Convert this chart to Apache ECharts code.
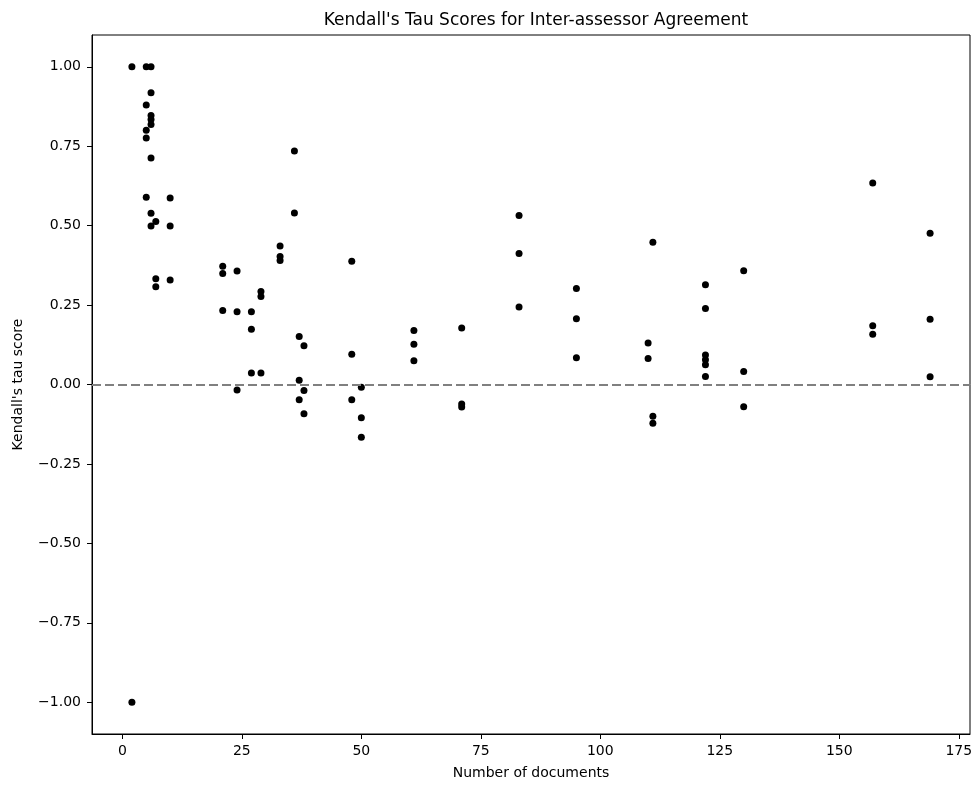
<!DOCTYPE html>
<html>
<head>
<meta charset="utf-8">
<script src="https://cdn.jsdelivr.net/npm/echarts@6/dist/echarts.min.js"></script>
<style>html,body{margin:0;padding:0;background:#fff}#c{width:980px;height:787px}</style>
</head>
<body>
<div id="c"></div>
<script>
const titleText = "Kendall's Tau Scores for Inter-assessor Agreement";
const xLabel = "Number of documents";
const yLabel = "Kendall's tau score";
const xTicks = [0, 25, 50, 75, 100, 125, 150, 175];
const yTicks = [-1, -0.75, -0.5, -0.25, 0, 0.25, 0.5, 0.75, 1];
const docs = [
  2, 2, 5, 6,
  6, 5, 6, 6, 6, 5, 5, 6, 5, 10, 6, 7, 6, 10, 7, 10, 7,
  21, 21, 21, 24, 24, 24, 27, 27, 27, 29, 29, 29, 33, 33, 33,
  36, 36, 37, 37, 37, 38, 38, 38,
  48, 48, 48, 50, 50, 50,
  61, 61, 61, 71, 71, 71,
  83, 83, 83, 95, 95, 95,
  110, 110, 111, 111, 111,
  122, 122, 122, 122, 122, 122,
  130, 130, 130, 157, 157, 157, 169, 169, 169
];
const tau = [
  1.0, -1.0, 1.0, 1.0,
  0.918, 0.88, 0.847, 0.834, 0.818, 0.80, 0.776, 0.713, 0.589, 0.587, 0.539, 0.513, 0.499, 0.499, 0.333, 0.329, 0.308,
  0.372, 0.349, 0.233, 0.357, 0.229, -0.017, 0.229, 0.174, 0.036, 0.293, 0.277, 0.036, 0.436, 0.403, 0.390,
  0.735, 0.54, 0.151, 0.013, -0.048, 0.122, -0.019, -0.092,
  0.388, 0.095, -0.048, -0.009, -0.105, -0.166,
  0.170, 0.127, 0.075, 0.178, -0.061, -0.071,
  0.532, 0.412, 0.244, 0.302, 0.207, 0.084,
  0.131, 0.082, 0.448, -0.100, -0.122,
  0.314, 0.239, 0.093, 0.078, 0.062, 0.025,
  0.358, 0.041, -0.070, 0.634, 0.185, 0.158, 0.476, 0.205, 0.024
];
const points = docs.map((d, i) => [d, tau[i]]);
const font = "DejaVu Sans";
const chart = echarts.init(document.getElementById('c'), null, {renderer: 'canvas'});
chart.setOption({
  animation: false,
  backgroundColor: '#fff',
  title: {
    text: titleText, left: 531, top: 7, textAlign: 'center',
    textStyle: {fontFamily: font, fontSize: 17, fontWeight: 'normal', color: '#000'}
  },
  grid: {left: 92, right: 10, top: 35, bottom: 53, show: true, borderColor: '#000', borderWidth: 1,
    backgroundColor: 'transparent', containLabel: false, outerBoundsMode: 'none'},
  xAxis: {
    type: 'value', min: -6.35, max: 177.35,
    name: xLabel, nameLocation: 'middle', nameGap: 32,
    nameTextStyle: {fontFamily: font, fontSize: 14, color: '#000'},
    axisLine: {show: true, onZero: false, lineStyle: {color: '#000', width: 1}},
    axisTick: {show: true, inside: false, length: 5, lineStyle: {color: '#000'}, customValues: xTicks},
    axisLabel: {show: true, fontFamily: font, fontSize: 14, color: '#000', margin: 10, customValues: xTicks,
      formatter: v => String(v)},
    splitLine: {show: false}
  },
  yAxis: {
    type: 'value', min: -1.1, max: 1.1,
    name: yLabel, nameLocation: 'middle', nameGap: 67, nameRotate: 90,
    nameTextStyle: {fontFamily: font, fontSize: 14, color: '#000'},
    axisLine: {show: true, onZero: false, lineStyle: {color: '#000', width: 1}},
    axisTick: {show: true, inside: false, length: 5, lineStyle: {color: '#000'}, customValues: yTicks},
    axisLabel: {show: true, fontFamily: font, fontSize: 14, color: '#000', margin: 11, customValues: yTicks,
      formatter: v => v.toFixed(2).replace('-', '\u2212')},
    splitLine: {show: false}
  },
  series: [{
    type: 'scatter',
    data: points,
    symbol: 'circle',
    symbolSize: 7,
    itemStyle: {color: '#000', opacity: 1},
    markLine: {
      silent: true,
      symbol: ['none', 'none'],
      label: {show: false},
      lineStyle: {color: '#808080', type: [9, 4], width: 1.8, opacity: 1},
      emphasis: {disabled: true},
      data: [{yAxis: 0}]
    },
    z: 3
  }]
});
</script>
</body>
</html>
